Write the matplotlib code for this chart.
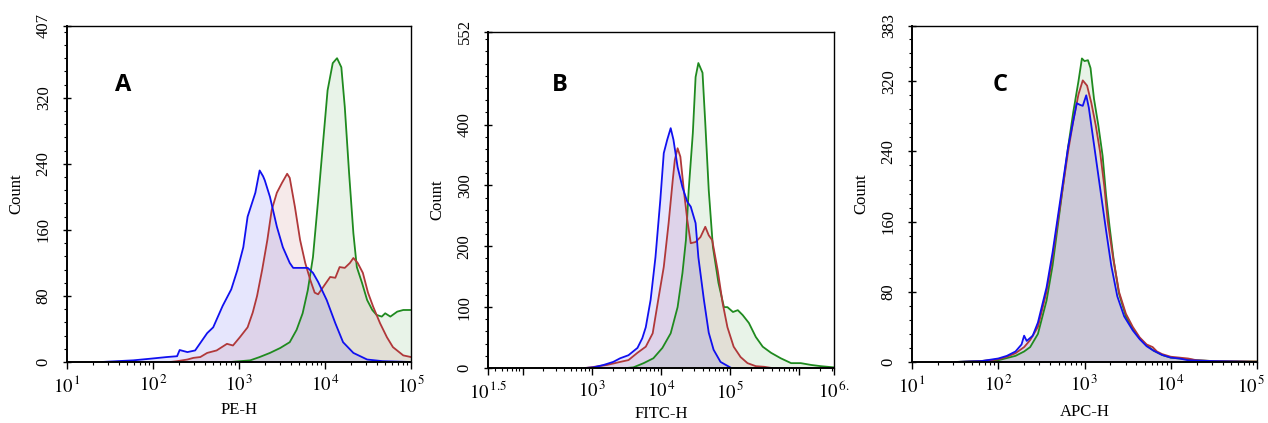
import numpy as np
import matplotlib
matplotlib.use("Agg")
import matplotlib.pyplot as plt
import matplotlib.transforms as mtransforms
from matplotlib.ticker import LogLocator, MultipleLocator, FixedLocator, FixedFormatter, NullFormatter

plt.rcParams['mathtext.fontset'] = 'stix'
plt.rcParams['font.family'] = ['Liberation Serif', 'DejaVu Serif']

# ---------------- data (x as log10 of fluorescence, y = count) ----------------
A_blue_x = [1.40, 1.58, 1.77, 1.97, 2.16, 2.28, 2.31, 2.40, 2.49, 2.55, 2.63, 2.70, 2.81, 2.91, 2.98, 3.05,
            3.10, 3.19, 3.24, 3.28, 3.30, 3.36, 3.44, 3.51, 3.59, 3.63, 3.71, 3.80, 3.86, 3.92, 4.02, 4.12,
            4.21, 4.33, 4.49, 4.67, 5.00]
A_blue_y = [0, 1, 2, 4, 6, 7, 14.5, 12, 14, 23, 35, 42, 68, 88, 111, 139,
            176, 205, 232, 225, 220, 200, 164, 139, 120, 114, 114, 114, 108, 97, 75, 47,
            24, 11, 3, 1, 0]

A_red_x = [2.20, 2.28, 2.40, 2.47, 2.55, 2.63, 2.74, 2.86, 2.93, 3.01, 3.10, 3.16, 3.21, 3.27, 3.33, 3.38,
           3.44, 3.50, 3.56, 3.59, 3.65, 3.71, 3.77, 3.83, 3.88, 3.92, 3.98, 4.06, 4.12, 4.17, 4.23, 4.29,
           4.33, 4.38, 4.44, 4.50, 4.56, 4.64, 4.72, 4.79, 4.91, 5.00]
A_red_y = [0, 1, 3, 5, 6, 11, 14, 22, 20, 30, 42, 60, 80, 112, 148, 184,
           205, 217, 228, 223, 188, 148, 120, 99, 84, 82, 91, 103, 102, 115, 114, 120,
           126, 120, 108, 84, 67, 47, 30, 18, 8, 6]

A_green_x = [2.90, 3.13, 3.24, 3.36, 3.48, 3.59, 3.67, 3.74, 3.80, 3.86, 3.92, 3.98, 4.03, 4.09, 4.14, 4.19,
             4.23, 4.28, 4.33, 4.37, 4.43, 4.49, 4.55, 4.60, 4.66, 4.70, 4.76, 4.84, 4.91, 5.00]
A_green_y = [0, 2, 6, 11, 17, 24, 39, 59, 87, 127, 196, 269, 329, 362, 368, 357,
             309, 229, 156, 115, 96, 75, 63, 57, 55, 59, 55, 61, 63, 63]

B_blue_x = [2.90, 3.02, 3.17, 3.31, 3.41, 3.53, 3.66, 3.73, 3.78, 3.85, 3.92, 3.99, 4.04, 4.09, 4.14, 4.18,
            4.24, 4.31, 4.38, 4.43, 4.50, 4.54, 4.62, 4.69, 4.76, 4.83, 4.86, 5.00]
B_blue_y = [0, 1, 5, 10, 16, 21, 33, 49, 67, 112, 182, 276, 353, 375, 394, 375,
            330, 297, 273, 265, 238, 182, 112, 58, 30, 16, 10, 1]

B_red_x = [2.90, 2.98, 3.22, 3.41, 3.53, 3.66, 3.78, 3.88, 3.96, 4.04, 4.11, 4.17, 4.20, 4.24, 4.28, 4.33,
           4.38, 4.43, 4.50, 4.57, 4.64, 4.69, 4.74, 4.82, 4.89, 4.96, 5.05, 5.15, 5.25, 5.37, 5.49, 5.60]
B_red_y = [0, 1, 5, 10, 13, 25, 35, 57, 112, 166, 238, 309, 342, 361, 347, 292,
           243, 205, 207, 215, 232, 218, 210, 160, 107, 67, 35, 18, 8, 3, 2, 0]

B_green_x = [3.50, 3.60, 3.75, 3.89, 4.02, 4.14, 4.24, 4.31, 4.36, 4.40, 4.46, 4.50, 4.54, 4.60, 4.64, 4.69,
             4.75, 4.83, 4.91, 4.96, 5.04, 5.11, 5.18, 5.27, 5.37, 5.47, 5.59, 5.73, 5.88, 6.02, 6.17, 6.31, 6.50]
B_green_y = [0, 1, 8, 16, 33, 57, 100, 156, 210, 292, 386, 478, 501, 485, 402, 292,
             199, 140, 100, 100, 92, 95, 87, 74, 51, 35, 25, 16, 8, 8, 5, 3, 1]

C_blue_x = [1.50, 1.80, 2.00, 2.10, 2.20, 2.27, 2.30, 2.33, 2.40, 2.46, 2.56, 2.63, 2.69, 2.75, 2.81, 2.87,
            2.91, 2.95, 2.98, 3.02, 3.05, 3.10, 3.15, 3.20, 3.25, 3.31, 3.38, 3.46, 3.56, 3.64, 3.72, 3.80,
            3.90, 4.00, 4.10, 4.20, 4.50, 5.00]
C_blue_y = [0, 1, 4, 7, 12, 20, 30, 24, 30, 45, 85, 125, 165, 205, 245, 275,
            295, 293, 292, 304, 290, 255, 220, 185, 150, 110, 75, 52, 36, 26, 18, 13,
            8, 5, 4, 2, 1, 0]

C_red_x = [1.50, 1.80, 2.00, 2.10, 2.20, 2.30, 2.37, 2.46, 2.56, 2.63, 2.69, 2.75, 2.81, 2.87, 2.93, 2.98,
           3.03, 3.08, 3.13, 3.18, 3.23, 3.27, 3.33, 3.40, 3.48, 3.56, 3.64, 3.72, 3.79, 3.84, 3.90, 4.00,
           4.10, 4.20, 4.30, 4.50, 5.00]
C_red_y = [0, 1, 3, 6, 10, 17, 25, 40, 80, 120, 160, 200, 240, 275, 305, 321,
           315, 295, 270, 240, 200, 160, 120, 80, 55, 40, 28, 20, 17, 12, 9, 6,
           5, 4, 2, 1, 0.5]

C_green_x = [1.50, 2.00, 2.20, 2.30, 2.37, 2.46, 2.56, 2.63, 2.69, 2.75, 2.81, 2.87, 2.93, 2.97, 3.00, 3.04,
             3.07, 3.11, 3.16, 3.21, 3.25, 3.29, 3.34, 3.40, 3.48, 3.56, 3.64, 3.72, 3.80, 3.90, 4.00, 4.10,
             4.20, 4.30, 4.50, 5.00]
C_green_y = [0, 2, 7, 12, 17, 32, 70, 110, 155, 200, 245, 285, 320, 346, 343, 344,
             335, 300, 270, 235, 190, 155, 115, 78, 52, 38, 27, 19, 13, 8, 5, 4,
             3, 2, 1, 0.5]

panels = [
    dict(letter="A", xlabel="PE-H", xlim=(1, 5), ylim=407, yticks=[0, 80, 160, 240, 320, 407], yminor=16,
         xt=[1, 2, 3, 4, 5], xtl=[r"$10^{\,1}$", r"$10^{\,2}$", r"$10^{\,3}$", r"$10^{\,4}$", r"$10^{\,5}$"],
         series=[(A_green_x, A_green_y), (A_red_x, A_red_y), (A_blue_x, A_blue_y)]),
    dict(letter="B", xlabel="FITC-H", xlim=(1.5, 6.5), ylim=552, yticks=[0, 100, 200, 300, 400, 552], yminor=20,
         xt=[1.5, 2, 3, 4, 5, 6, 6.5],
         xtl=[r"$10^{\,1.5}$", "", r"$10^{\,3}$", r"$10^{\,4}$", r"$10^{\,5}$", "", r"$10^{\,6.}$"],
         series=[(B_green_x, B_green_y), (B_red_x, B_red_y), (B_blue_x, B_blue_y)]),
    dict(letter="C", xlabel="APC-H", xlim=(1, 5), ylim=383, yticks=[0, 80, 160, 240, 320, 383], yminor=16,
         xt=[1, 2, 3, 4, 5], xtl=[r"$10^{\,1}$", r"$10^{\,2}$", r"$10^{\,3}$", r"$10^{\,4}$", r"$10^{\,5}$"],
         series=[(C_green_x, C_green_y), (C_red_x, C_red_y), (C_blue_x, C_blue_y)]),
]
colors = ["#1f8a1f", "#b0383a", "#1010f0"]

W, H = 1268, 423
fig = plt.figure(figsize=(W / 100, H / 100), dpi=100)
boxes = [(67, 411, 26, 362), (488, 834, 32, 368), (912, 1257, 26, 362)]
letter_pos = [(123, 85), (560, 85), (1000, 85)]
xlabel_y = [410, 414, 412]

for i, (p, (l, r, t, b), (lx, ly), xly) in enumerate(zip(panels, boxes, letter_pos, xlabel_y)):
    ax = fig.add_axes([l / W, 1 - b / H, (r - l) / W, (b - t) / H])
    for (xs, ys), c in zip(p["series"], colors):
        xv = np.power(10.0, xs)
        ax.fill_between(xv, 0, ys, color=c, alpha=0.1, linewidth=0)
        ax.plot(xv, ys, color=c, lw=1.3)
    ax.set_xscale("log")
    ax.set_xlim(10 ** p["xlim"][0], 10 ** p["xlim"][1])
    ax.set_ylim(0, p["ylim"])
    ax.xaxis.set_major_locator(FixedLocator([10 ** v for v in p["xt"]]))
    ax.xaxis.set_major_formatter(FixedFormatter(p["xtl"]))
    ax.xaxis.set_minor_locator(LogLocator(base=10, subs=np.arange(2, 10), numticks=20))
    ax.xaxis.set_minor_formatter(NullFormatter())
    ax.set_yticks(p["yticks"])
    ax.yaxis.set_minor_locator(MultipleLocator(p["yminor"]))
    ax.tick_params(axis="x", which="major", direction="out", length=5, width=1.0, pad=4, labelsize=13.5)
    ax.tick_params(axis="x", which="minor", direction="out", length=2.5, width=0.8)
    ax.tick_params(axis="y", which="major", direction="inout", length=6, width=1.0, pad=8, labelsize=12)
    ax.tick_params(axis="y", which="minor", direction="out", length=2.5, width=0.8)
    for lab in ax.get_yticklabels():
        lab.set_rotation(90)
        lab.set_va("center")
    if i == 2:
        last = ax.get_xticklabels()[-1]
        last.set_transform(last.get_transform() +
                           mtransforms.ScaledTranslation(-6 / 100, 0, fig.dpi_scale_trans))
    for s in ["left", "bottom"]:
        ax.spines[s].set_linewidth(1.4)
    for s in ["top", "right"]:
        ax.spines[s].set_linewidth(1.0)
    ax.set_ylabel("Count", fontsize=12, labelpad=8)
    fig.text((l + r) / 2 / W, 1 - xly / H, p["xlabel"], ha="center", va="center", fontsize=12)
    fig.text(lx / W, 1 - ly / H, p["letter"], ha="center", va="center", fontsize=17,
             fontweight="bold", family=["Open Sans", "DejaVu Sans"])

fig.savefig("out.png", dpi=100, facecolor="white")
